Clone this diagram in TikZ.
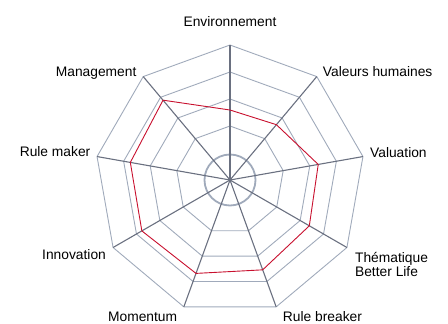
\documentclass[tikz,border=0pt]{standalone}
\usepackage{fontspec}
\setmainfont{Liberation Sans}
\usetikzlibrary{positioning,calc}
\definecolor{gridgray}{RGB}{160,170,187}
\definecolor{axisgray}{RGB}{106,112,128}
\definecolor{scorered}{RGB}{200,16,46}
\tikzset{
  ring/.style={gridgray,line width=0.9pt},
  spoke/.style={axisgray,line width=1.1pt},
  lbl/.style={font=\fontsize{13.8}{14.3}\selectfont,inner sep=0pt}
}

\begin{document}
\begin{tikzpicture}[x=1pt,y=1pt]
\useasboundingbox (-230,-144) rectangle (218,180);
\coordinate (o) at (0,0);
\foreach \i in {0,...,8}
  \coordinate (a\i) at ({90-40*\i}:135);
% grid
\foreach \r in {54,81,108,135}
  \draw[ring] (90:\r) \foreach \i in {1,...,8}{ -- ({90-40*\i}:\r)} -- cycle;
\draw[ring,line width=1.8pt] (o) circle (25.5);
\foreach \i in {0,...,8}
  \draw[spoke] (o) -- (a\i);
% scores
\draw[scorered,line width=0.9pt] (90:70) -- (50:72.2) -- (10:89.6) -- (-30:91.6)
  -- (-70:95.6) -- (-110:99.4) -- (-150:101.8) -- (170:101.2) -- (130:104.2) -- cycle;
% labels
\node[lbl,anchor=base] (env) at ($(a0)+(0,18.5)$) {Environnement};
\node[lbl,anchor=base west] (valh) at ($(a1)+(6,0)$) {Valeurs humaines};
\node[lbl,anchor=base west] (valu) at ($(a2)+(7,-0.7)$) {Valuation};
\node[lbl,anchor=north west,align=left] (them) at ($(a3)+(8,-4.2)$) {Thématique\\Better Life};
\node[lbl,anchor=base west] (rbreak) at ($(a4)+(6.6,-14.8)$) {Rule breaker};
\node[lbl,anchor=base east] (mom) at ($(a5)+(-6.5,-14.8)$) {Momentum};
\node[lbl,anchor=base east] (inno) at ($(a6)+(-7,-11.8)$) {Innovation};
\node[lbl,anchor=base east] (rmake) at ($(a7)+(-6.5,0)$) {Rule maker};
\node[lbl,anchor=base east] (mgmt) at ($(a8)+(-6.6,0)$) {Management};
\end{tikzpicture}
\end{document}
